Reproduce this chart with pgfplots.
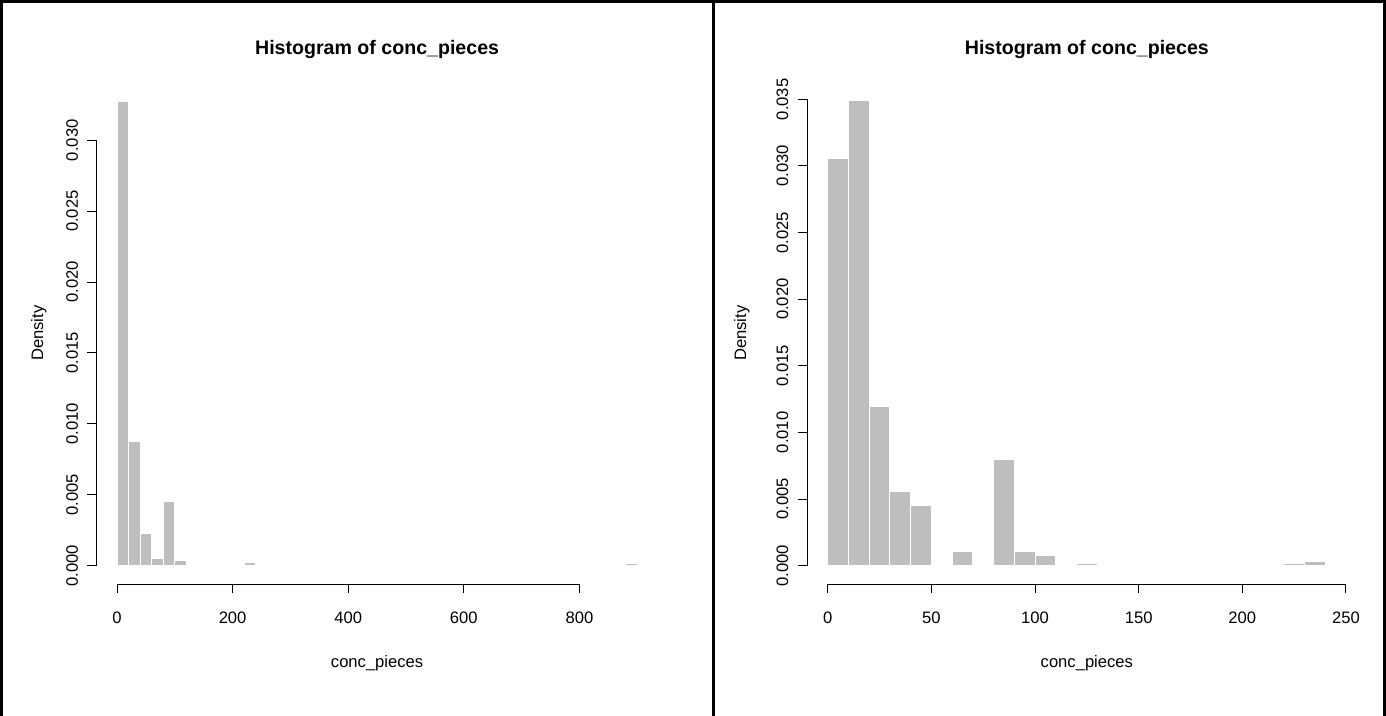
\documentclass[border=0pt]{standalone}
\usepackage{pgfplots}
\pgfplotsset{compat=1.18}
\usepackage{fontspec}
\setmainfont{Liberation Sans}
\definecolor{histfill}{HTML}{BEBEBE}

% Bin centres and densities (bin width 20 on the left, 10 on the right)
\pgfplotstableread{
x      d
10     0.03273
30     0.008765
50     0.002275
70     0.000525
90     0.004515
110    0.000375
130    0.000075
230    0.000225
890    0.00012
}\widebins
\pgfplotstableread{
x      d
5      0.03057
15     0.03489
25     0.01193
35     0.00560
45     0.00455
65     0.00105
85     0.00798
95     0.00105
105    0.00075
125    0.00015
225    0.00015
235    0.00030
}\narrowbins

\pgfplotsset{
  rhist/.style={
    scale only axis,
    height=251.15pt,
    axis x line*=bottom,
    axis y line*=left,
    axis line style={draw=none},
    tick align=outside,
    major tick length=4.5pt,
    tick style={black, line width=0.5pt},
    every tick label/.append style={font=\fontsize{8.3}{10}\selectfont},
    /pgf/number format/assume math mode=true,
    scaled y ticks=false,
    xticklabel style={anchor=base, yshift=-15.3pt},
    yticklabel style={/pgf/number format/fixed, /pgf/number format/fixed zerofill,
      /pgf/number format/precision=3},
    every axis title/.style={at={(axis description cs:0.5,1)}, anchor=base,
      yshift=13.6pt, font=\bfseries\fontsize{9.8}{12}\selectfont},
    every axis x label/.style={at={(axis description cs:0.5,0)}, anchor=base,
      yshift=-41.6pt, font=\fontsize{8.3}{10}\selectfont},
    every axis y label/.style={at={(axis description cs:-0.0943,0.5)},
      rotate=90, anchor=base, font=\fontsize{8.3}{10}\selectfont},
    clip=false,
    title={Histogram of conc\_pieces},
    xlabel={conc\_pieces},
    ylabel={Density},
  },
  rbars/.style={ybar, bar shift=0pt, fill=histfill, draw=white, line width=0.5pt},
}

\begin{document}
\begin{tikzpicture}
\useasboundingbox (0,0) rectangle (693pt,358pt);

% left panel: full range, 20-wide bins
\begin{axis}[rhist,
  at={(48.1pt,65.85pt)}, anchor=south west,
  width=280.9pt,
  xmin=-36, xmax=936,
  ymin=-0.001312, ymax=0.03411,
  xtick={0,200,400,600,800},
  ytick={0,0.005,...,0.0301},
  yticklabel style={xshift=-4.6pt, rotate=90, anchor=base},
]
\addplot[rbars, bar width=20] table[x=x, y=d] {\widebins};
\draw[black, line width=0.5pt] (axis cs:0,-0.001312) -- (axis cs:800,-0.001312);
\draw[black, line width=0.5pt] (axis cs:-36,0) -- (axis cs:-36,0.030);
\end{axis}

% right panel: 10-wide bins, outlier removed
\begin{axis}[rhist,
  at={(403.5pt,65.85pt)}, anchor=south west,
  width=279.85pt,
  xmin=-10, xmax=260,
  ymin=-0.0013957, ymax=0.0363,
  xtick={0,50,...,250},
  ytick={0,0.005,...,0.0351},
  every axis y label/.append style={at={(axis description cs:-0.109,0.5)}},
  yticklabel style={xshift=-5.0pt, rotate=90, anchor=base},
]
\addplot[rbars, bar width=10] table[x=x, y=d] {\narrowbins};
\draw[black, line width=0.5pt] (axis cs:0,-0.0013957) -- (axis cs:250,-0.0013957);
\draw[black, line width=0.5pt] (axis cs:-10,0) -- (axis cs:-10,0.035);
\end{axis}

% panel frames
\draw[black, line width=1.5pt] (0.75pt,0) -- (0.75pt,357.25pt) -- (692.25pt,357.25pt) -- (692.25pt,0);
\draw[black, line width=1.5pt] (356.75pt,0) -- (356.75pt,358pt);
\end{tikzpicture}
\end{document}
